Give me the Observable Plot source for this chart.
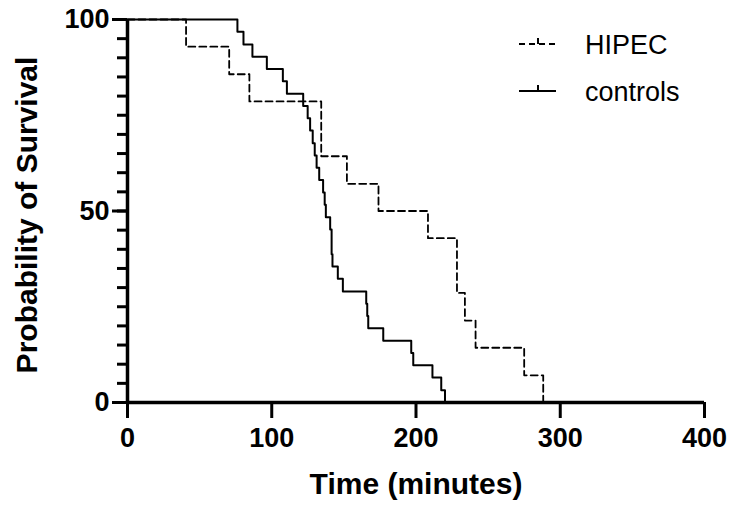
<!DOCTYPE html>
<html>
<head>
<meta charset="utf-8">
<script src="https://cdn.jsdelivr.net/npm/d3@7"></script>
<script src="https://cdn.jsdelivr.net/npm/@observablehq/plot@0.6"></script>
<style>
  html, body { margin: 0; padding: 0; background: #fff; }
  #wrap { position: relative; width: 732px; height: 508px; }
  #legend { position: absolute; left: 0; top: 0; pointer-events: none; }
</style>
</head>
<body>
<div id="wrap"></div>
<script>
// Kaplan-Meier step data (time in minutes, survival in %)
const hipecTime = [0, 40.6, 70.5, 84.5, 134.3, 152.1, 174.0, 208.3, 228.4, 233.9, 241.3, 275.0, 288.2];
const hipecSurv = [100, 92.9, 85.7, 78.6, 64.3, 57.1, 50.0, 42.9, 28.6, 21.4, 14.3, 7.1, 0];

const controlsTime = [0, 76.2, 80.4, 86.6, 96.6, 107.7, 110.5, 121.8, 124.9, 126.6, 128.4, 129.8, 131.1, 132.9,
  135.6, 136.7, 137.5, 140.5, 141.5, 142.1, 145.8, 149.3, 165.5, 166.2, 166.9, 177.3, 196.7, 198.1, 211.4, 217.5, 220.1];
const controlsSurv = [100, 96.8, 93.5, 90.3, 87.1, 83.9, 80.6, 77.4, 74.2, 71.0, 67.7, 64.5, 61.3, 58.1,
  54.8, 51.6, 48.4, 45.2, 38.7, 35.5, 32.3, 29.0, 25.8, 22.6, 19.4, 16.1, 12.9, 9.7, 6.5, 3.2, 0];

const xTicks = [0, 100, 200, 300, 400];
const yMajorTicks = [0, 50, 100];
const yMinorTicks = [0, 5, 10, 15, 20, 25, 30, 35, 40, 45, 50, 55, 60, 65, 70, 75, 80, 85, 90, 95, 100];

const seriesNames = ["HIPEC", "controls"];
const xLabel = "Time (minutes)";
const yLabel = "Probability of Survival";

const hipec = hipecTime.map((t, i) => ({t, s: hipecSurv[i]}));
const controls = controlsTime.map((t, i) => ({t, s: controlsSurv[i]}));

const font = "'Liberation Sans', Arial, Helvetica, sans-serif";

const chart = Plot.plot({
  width: 732,
  height: 508,
  marginLeft: 127,
  marginRight: 28,
  marginTop: 19,
  marginBottom: 106,
  x: {domain: [0, 400]},
  y: {domain: [0, 100]},
  style: {fontFamily: font, background: "white", color: "black", overflow: "visible"},
  marks: [
    Plot.axisY({ticks: yMinorTicks, tickSize: 10, strokeWidth: 3, tickFormat: () => "", label: null}),
    Plot.axisY({ticks: yMajorTicks, tickSize: 15, strokeWidth: 3, tickPadding: 3, fontSize: 27, fontWeight: "bold", label: null}),
    Plot.axisX({ticks: xTicks, tickSize: 16, strokeWidth: 3, tickPadding: 9, fontSize: 27, fontWeight: "bold", label: null}),
    Plot.ruleX([0], {strokeWidth: 3.5}),
    Plot.ruleY([0], {strokeWidth: 3.5}),
    Plot.line(controls, {x: "t", y: "s", curve: "step-after", stroke: "black", strokeWidth: 2}),
    Plot.line(hipec, {x: "t", y: "s", curve: "step-after", stroke: "black", strokeWidth: 1.8, strokeDasharray: "7,4"}),
    Plot.text([xLabel], {frameAnchor: "bottom", dy: 91, fontSize: 30, fontWeight: "bold", fill: "black"}),
    Plot.text([yLabel], {frameAnchor: "left", textAnchor: "middle", lineAnchor: "middle", dx: -100, dy: 4, rotate: -90, fontSize: 30, fontWeight: "bold", fill: "black"})
  ]
});

const wrap = document.getElementById("wrap");
wrap.appendChild(chart);

// Legend overlay
const ns = "http://www.w3.org/2000/svg";
const leg = document.createElementNS(ns, "svg");
leg.setAttribute("id", "legend");
leg.setAttribute("width", 732);
leg.setAttribute("height", 508);
const items = [
  {name: seriesNames[0], y: 44, dash: "6,4"},
  {name: seriesNames[1], y: 91, dash: null}
];
items.forEach(it => {
  const l = document.createElementNS(ns, "line");
  l.setAttribute("x1", 519); l.setAttribute("x2", 556);
  l.setAttribute("y1", it.y); l.setAttribute("y2", it.y);
  l.setAttribute("stroke", "black"); l.setAttribute("stroke-width", 2);
  if (it.dash) l.setAttribute("stroke-dasharray", it.dash);
  leg.appendChild(l);
  const tk = document.createElementNS(ns, "line");
  tk.setAttribute("x1", 538); tk.setAttribute("x2", 538);
  tk.setAttribute("y1", it.y); tk.setAttribute("y2", it.y - 6);
  tk.setAttribute("stroke", "black"); tk.setAttribute("stroke-width", 2);
  leg.appendChild(tk);
  const tx = document.createElementNS(ns, "text");
  tx.setAttribute("x", 585); tx.setAttribute("y", it.y + 10);
  tx.setAttribute("font-family", font);
  tx.setAttribute("font-size", 27);
  tx.setAttribute("fill", "black");
  tx.textContent = it.name;
  leg.appendChild(tx);
});
wrap.appendChild(leg);
</script>
</body>
</html>
